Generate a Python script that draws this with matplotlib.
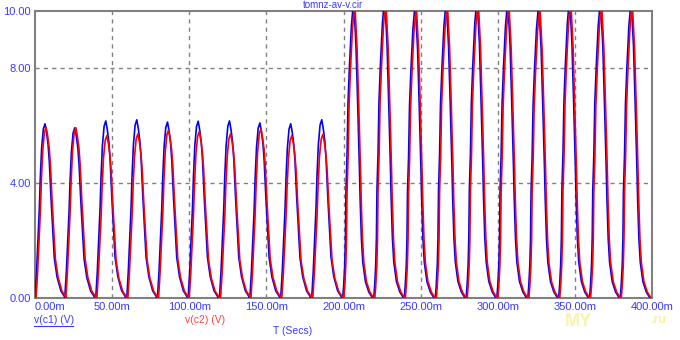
import numpy as np
import matplotlib.pyplot as plt

# pulse start times (ms)
pulse_start = [0.0, 19.3, 39.4, 59.5, 79.4, 99.3, 119.6, 139.3, 159.3, 179.4,
               199.5, 219.6, 239.4, 259.5, 279.5, 299.4, 319.5, 339.5, 359.5, 379.4]

# peak voltages per pulse (the last ten run off the top of the plot)
c1_peak = [6.07, 5.93, 6.17, 6.21, 6.13, 6.16, 6.17, 6.10, 6.07, 6.21,
           10.4, 10.5, 10.3, 10.4, 10.5, 10.4, 10.3, 10.5, 10.4, 10.4]
c2_peak = [5.95, 5.93, 5.66, 5.72, 5.86, 5.80, 5.72, 5.90, 5.66, 5.70,
           10.3, 10.4, 10.2, 10.3, 10.4, 10.3, 10.2, 10.4, 10.3, 10.3]

# normalized pulse shape, low-amplitude pulses (ms after start, fraction of peak)
low_t = [0.0, 0.4, 1.0, 1.7, 2.1, 2.8, 3.4, 4.3, 5.4, 6.5, 7.5, 8.5, 9.3, 10.4,
         11.5, 12.5, 14.3, 16.8, 19.0, 19.3]
low_f = [0.0, 0.06, 0.15, 0.29, 0.37, 0.51, 0.68, 0.86, 0.97, 1.0, 0.95, 0.88,
         0.78, 0.57, 0.39, 0.23, 0.12, 0.04, 0.01, 0.0]

# normalized pulse shape, high-amplitude pulses
high_t = [0.0, 0.6, 1.3, 1.75, 2.1, 2.8, 3.4, 4.3, 5.6, 7.1, 8.6, 9.7, 10.8,
          11.3, 12.1, 13.0, 14.7, 16.9, 19.3]
high_f = [0.0, 0.04, 0.11, 0.20, 0.36, 0.48, 0.65, 0.77, 0.91, 1.0, 0.845, 0.65,
          0.44, 0.33, 0.20, 0.12, 0.055, 0.02, 0.0]

c2_lag = 0.7  # ms, v(c2) trails v(c1)

y_ticks = [0, 4, 8, 10]
y_labels = ["0.00", "4.00", "8.00", "10.00"]
x_ticks = [0, 50, 100, 150, 200, 250, 300, 350, 400]
x_labels = ["0.00m", "50.00m", "100.00m", "150.00m", "200.00m",
            "250.00m", "300.00m", "350.00m", "400.00m"]

BLUE = "#0000ff"
RED = "#ff0000"
TXT_BLUE = "#3a3aff"
TXT_RED = "#ff4040"
GRAY = "#808080"


def build_trace(peaks, lag):
    t_all, v_all = [], []
    for start, peak in zip(pulse_start, peaks):
        if peak > 8:
            st, sf = high_t, high_f
        else:
            st, sf = low_t, low_f
        t_all.extend(start + lag + np.array(st))
        v_all.extend(peak * np.array(sf))
    return np.array(t_all), np.array(v_all)


t1, v1 = build_trace(c1_peak, 0.0)
t2, v2 = build_trace(c2_peak, c2_lag)
t2 = np.concatenate([[0.0], t2])
v2 = np.concatenate([[0.0], v2])

plt.rcParams["font.family"] = ["Liberation Sans", "DejaVu Sans"]

fig = plt.figure(figsize=(6.8, 3.4), dpi=100)
ax = fig.add_axes([35 / 680, 42 / 340, 617 / 680, 287 / 340])

ax.plot(t1, v1, color=BLUE, lw=1.2, zorder=3)
ax.plot(t2, v2, color=RED, lw=1.2, zorder=4)

ax.set_xlim(0, 400)
ax.set_ylim(0, 10)

for x in x_ticks[1:-1]:
    ax.axvline(x, color=GRAY, lw=1, ls=(0, (3, 3)), zorder=1)
for y in [4, 8]:
    ax.axhline(y, color=GRAY, lw=1, ls=(0, (3, 3)), zorder=1)

for sp in ax.spines.values():
    sp.set_color(GRAY)
    sp.set_linewidth(1.5)

ax.set_xticks(x_ticks)
ax.set_xticklabels(x_labels, color=TXT_BLUE, fontsize=8)
ax.set_yticks(y_ticks)
ax.set_yticklabels(y_labels, color=TXT_BLUE, fontsize=8)
ax.tick_params(length=0, pad=3)
ax.get_xticklabels()[0].set_horizontalalignment("left")

fig.text(0.49, 1 - 0.5 / 340, "tomnz-av-v.cir", color=TXT_BLUE, fontsize=7,
         ha="center", va="top")
fig.text(34 / 680, 1 - 320 / 340, "v(c1) (V)", color=TXT_BLUE, fontsize=7.5,
         ha="left", va="center")
fig.add_artist(plt.Line2D([34 / 680, 73 / 680], [1 - 326 / 340] * 2,
                          color=TXT_BLUE, lw=0.8))
fig.text(185 / 680, 1 - 320 / 340, "v(c2) (V)", color=TXT_RED, fontsize=7.5,
         ha="left", va="center")
fig.text(273 / 680, 1 - 331 / 340, "T (Secs)", color=TXT_BLUE, fontsize=7.5,
         ha="left", va="center")

# faint site watermark
fig.text(578 / 680, 1 - 322 / 340, "MY", color="#f4ec70", alpha=0.6,
         fontsize=13, fontweight="bold", ha="center", va="center")
fig.text(658 / 680, 1 - 320 / 340, ".ru", color="#f4ec70", alpha=0.6,
         fontsize=9, fontweight="bold", ha="center", va="center")

fig.savefig("out.png", dpi=100)
